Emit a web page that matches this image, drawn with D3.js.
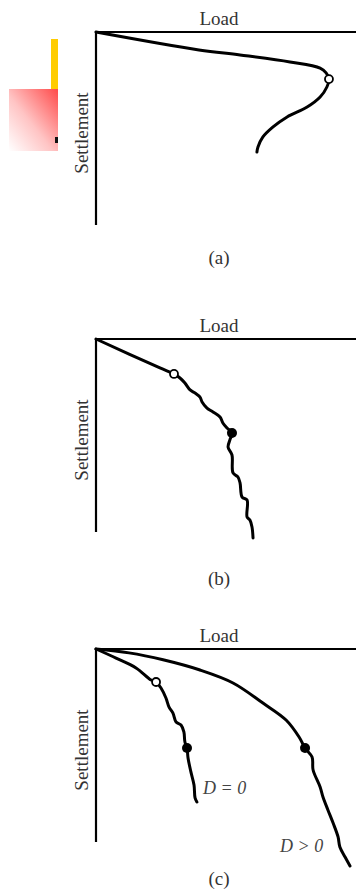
<!DOCTYPE html>
<html>
<head>
<meta charset="utf-8">
<script src="https://cdn.jsdelivr.net/npm/d3@7"></script>
<style>
  body { margin: 0; background: #fff; }
  svg { display: block; }
</style>
</head>
<body>
<div id="chart"></div>
<script>
// load / settlement values (load 0-100, settlement 0-100 = axis length)
var curveA = [
  [0, 0], [39.6, 9.3], [55.4, 11.9], [74.6, 15.5], [86.2, 18.7], [88.5, 21.2],
  [89.6, 24.4], [88.8, 28.5], [86.2, 33.7], [81.2, 38.9], [73.5, 44.0],
  [68.1, 49.2], [64.2, 54.4], [62.3, 59.6], [61.9, 62.2]
];
var curveB = [
  [0, 0], [24.6, 15.0], [30.0, 18.1], [32.3, 20.2], [34.2, 22.8], [36.2, 26.4],
  [38.1, 28.0], [40.0, 30.1], [40.8, 32.6], [42.7, 35.8], [45.0, 37.8],
  [47.7, 40.4], [48.8, 43.5], [50.4, 46.1], [52.3, 48.7], [51.5, 52.3],
  [50.8, 56.0], [52.3, 60.1], [52.7, 69.4], [54.6, 71.5], [55.4, 74.6],
  [56.2, 81.9], [58.1, 83.4], [58.1, 92.2], [59.2, 93.8], [60.0, 97.4], [60.4, 103.1]
];
var curveC0 = [
  [0, 0], [7.7, 4.7], [15.4, 9.8], [21.2, 16.1], [23.1, 17.1], [25.0, 20.2],
  [26.9, 25.4], [28.1, 30.1], [29.6, 33.2], [30.8, 37.8], [32.7, 39.4],
  [33.8, 43.0], [34.2, 48.2], [35.0, 51.3], [35.4, 56.5], [36.5, 63.7],
  [37.7, 70.5], [38.1, 77.2], [38.8, 79.3]
];
var curveC1 = [
  [0, 0], [12.7, 2.0], [25.8, 5.6], [40.0, 10.9], [52.7, 17.6],
  [64.2, 28.0], [73.1, 36.8], [78.1, 45.6], [80.4, 51.3],
  [83.1, 56.0], [83.5, 62.7], [86.2, 71.5], [87.3, 76.7], [89.2, 83.4],
  [91.2, 90.2], [93.1, 97.4], [93.8, 102.6], [95.8, 107.8], [97.7, 112.4]
];
var openPoints = [[[89.6, 24.4]], [[30.0, 18.1]], [[23.1, 17.1]]];
var filledPoints = [[], [[52.3, 48.7]], [[35.0, 51.3], [80.4, 51.3]]];
var captions = ["(a)", "(b)", "(c)"];
var curveLabels = [[], [], [
  { text: "D = 0", load: 41.2, settle: 75.1 },
  { text: "D > 0", load: 70.8, settle: 105.2 }
]];
var panelCurves = [[curveA], [curveB], [curveC0, curveC1]];

var width = 356, height = 890;
var tops = [32, 339, 649];
var capY = [232, 246, 236];
var axisH = 193;

var svg = d3.select("#chart").append("svg")
  .attr("width", width).attr("height", height);

// slide template decorations
var defs = svg.append("defs");
var grad = defs.append("linearGradient").attr("id", "pink")
  .attr("x1", "100%").attr("y1", "0%").attr("x2", "0%").attr("y2", "100%");
grad.append("stop").attr("offset", "0%").attr("stop-color", "#ff4a4a");
grad.append("stop").attr("offset", "55%").attr("stop-color", "#ffc4c4");
grad.append("stop").attr("offset", "100%").attr("stop-color", "#ffffff");
svg.append("rect").attr("x", 51).attr("y", 39).attr("width", 7).attr("height", 50).attr("fill", "#ffcc00");
svg.append("rect").attr("x", 9).attr("y", 89).attr("width", 49).attr("height", 62).attr("fill", "url(#pink)");
svg.append("rect").attr("x", 55).attr("y", 137).attr("width", 3).attr("height", 6).attr("fill", "#111");

var x = d3.scaleLinear().domain([0, 100]).range([96, 356]);

panelCurves.forEach(function(curves, i) {
  var top = tops[i];
  var y = d3.scaleLinear().domain([0, 100]).range([top, top + axisH]);
  var g = svg.append("g");

  // axes
  g.append("line").attr("x1", x(0)).attr("x2", x(100)).attr("y1", y(0)).attr("y2", y(0))
    .attr("stroke", "#000").attr("stroke-width", 2.2);
  g.append("line").attr("x1", x(0)).attr("x2", x(0)).attr("y1", y(0) - 1).attr("y2", y(100))
    .attr("stroke", "#000").attr("stroke-width", 2.2);

  g.append("text").attr("x", x(47.3)).attr("y", y(0) - 7)
    .attr("text-anchor", "middle")
    .style("font", "19px 'Liberation Serif', serif").style("fill", "#333")
    .text("Load");
  g.append("text")
    .attr("transform", "translate(88," + (top + 101) + ") rotate(-90)")
    .attr("text-anchor", "middle")
    .style("font", "19px 'Liberation Serif', serif").style("fill", "#333")
    .text("Settlement");
  g.append("text").attr("x", x(47.3)).attr("y", top + capY[i])
    .attr("text-anchor", "middle")
    .style("font", "19px 'Liberation Serif', serif").style("fill", "#333")
    .text(captions[i]);

  var line = d3.line()
    .x(function(d) { return x(d[0]); })
    .y(function(d) { return y(d[1]); })
    .curve(d3.curveCatmullRom.alpha(0.5));

  g.selectAll("path.curve").data(curves).enter().append("path")
    .attr("class", "curve")
    .attr("d", line)
    .attr("fill", "none").attr("stroke", "#000")
    .attr("stroke-width", 3).attr("stroke-linejoin", "round").attr("stroke-linecap", "round");

  g.selectAll("circle.open").data(openPoints[i]).enter().append("circle")
    .attr("class", "open")
    .attr("cx", function(d) { return x(d[0]); })
    .attr("cy", function(d) { return y(d[1]); })
    .attr("r", 4).attr("fill", "#fff").attr("stroke", "#000").attr("stroke-width", 1.8);

  g.selectAll("circle.filled").data(filledPoints[i]).enter().append("circle")
    .attr("class", "filled")
    .attr("cx", function(d) { return x(d[0]); })
    .attr("cy", function(d) { return y(d[1]); })
    .attr("r", 5).attr("fill", "#000");

  g.selectAll("text.lab").data(curveLabels[i]).enter().append("text")
    .attr("class", "lab")
    .attr("x", function(d) { return x(d.load); })
    .attr("y", function(d) { return y(d.settle); })
    .style("font", "italic 18px 'Liberation Serif', serif").style("fill", "#444")
    .text(function(d) { return d.text; });
});
</script>
</body>
</html>
